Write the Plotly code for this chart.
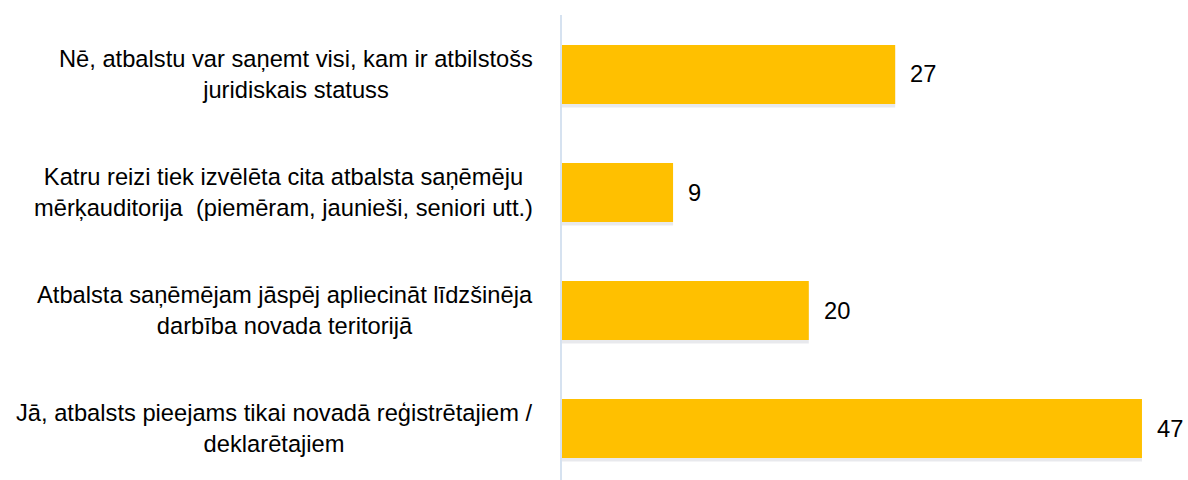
import plotly.graph_objects as go

# kategorijas (no augšas uz leju) un vērtības
atbildes = [
    "Nē, atbalstu var saņemt visi, kam ir atbilstošs<br>juridiskais statuss",
    "Katru reizi tiek izvēlēta cita atbalsta saņēmēju<br>mērķauditorija  (piemēram, jaunieši, seniori utt.)",
    "Atbalsta saņēmējam jāspēj apliecināt līdzšinēja<br>darbība novada teritorijā",
    "Jā, atbalsts pieejams tikai novadā reģistrētajiem /<br>deklarētajiem",
]
skaits = [27, 9, 20, 47]

kat_id = list(range(len(atbildes)))
fonts = dict(family="Liberation Sans, Arial", size=23.7, color="#000000")

fig = go.Figure()

# viegla ēna zem joslām
fig.add_trace(go.Bar(
    x=skaits, y=kat_id, orientation="h",
    width=0.5, offset=-0.25 + 0.03,
    marker=dict(color="rgba(110,120,140,0.16)", line_width=0),
    hoverinfo="skip", showlegend=False,
))

fig.add_trace(go.Bar(
    x=skaits, y=kat_id, orientation="h",
    width=0.5, offset=-0.25,
    marker=dict(color="#FFC000", line_width=0),
    showlegend=False,
))

for i, (txt, v) in enumerate(zip(atbildes, skaits)):
    fig.add_annotation(
        x=0, y=i, xref="x", yref="y", text=txt, showarrow=False,
        xanchor="right", align="center", xshift=-27, font=fonts,
    )
    fig.add_annotation(
        x=v, y=i, xref="x", yref="y", text=str(v), showarrow=False,
        xanchor="left", xshift=13, font=fonts,
    )

fig.update_layout(
    width=1188, height=480,
    margin=dict(l=562, r=0, t=15, b=0),
    plot_bgcolor="white", paper_bgcolor="white",
    barmode="overlay",
    xaxis=dict(range=[0, 50.73], visible=False, fixedrange=True),
    yaxis=dict(
        range=[3.436, -0.504], showticklabels=False, showgrid=False,
        zeroline=False, showline=True, linecolor="#D6E2F0", linewidth=2,
        ticks="",
    ),
)

# bez noklusētās lapas atkāpes
fig.write_html("out.html", config={"displayModeBar": False},
               post_script="document.body.style.margin='0';")
